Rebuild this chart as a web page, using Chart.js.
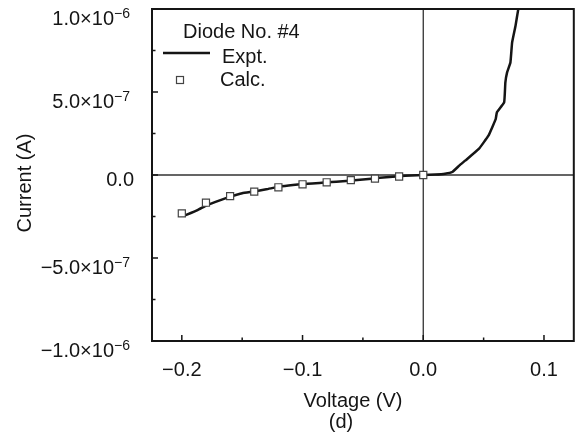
<!DOCTYPE html>
<html>
<head>
<meta charset="utf-8">
<script src="https://cdn.jsdelivr.net/npm/chart.js@4/dist/chart.umd.min.js"></script>
<style>
  html, body { margin: 0; padding: 0; background: #fff; }
  #wrap { width: 580px; height: 441px; }
</style>
</head>
<body>
<div id="wrap"><canvas id="ivChart" width="580" height="441"></canvas></div>
<script>
// Expt. curve (voltage in V, current in units of 1e-7 A)
const exptVoltage = [-0.198, -0.187, -0.179, -0.168, -0.160, -0.150, -0.141, -0.130, -0.119, -0.108,
  -0.100, -0.092, -0.080, -0.064, -0.050, -0.036, -0.020, -0.010, 0.000, 0.010,
  0.018, 0.024, 0.030, 0.035, 0.046, 0.054, 0.060, 0.061, 0.067, 0.068,
  0.0694, 0.0722, 0.0736, 0.0764, 0.0785, 0.080];
const exptCurrent = [-2.45, -2.11, -1.81, -1.51, -1.31, -1.10, -1.00, -0.86, -0.70, -0.60,
  -0.55, -0.51, -0.44, -0.36, -0.27, -0.17, -0.07, -0.03, 0.00, 0.03,
  0.08, 0.18, 0.58, 0.88, 1.57, 2.37, 3.37, 3.77, 4.37, 5.57,
  6.17, 6.78, 7.98, 8.98, 9.90, 10.4];

// Calc. squares
const calcVoltage = [-0.20, -0.18, -0.16, -0.14, -0.12, -0.10, -0.08, -0.06, -0.04, -0.02, 0.00];
const calcCurrent = [-2.31, -1.67, -1.27, -1.00, -0.74, -0.56, -0.44, -0.31, -0.22, -0.09, 0.00];

// axes
const xTickValues = [-0.2, -0.1, 0.0, 0.1];
const xTickLabels = ['\u22120.2', '\u22120.1', '0.0', '0.1'];
const xMinorTicks = [-0.15, -0.05, 0.05];
const yTickValues = [1e-6, 5e-7, 0, -5e-7, -1e-6];
const yTickMantissa = ['1.0\u00d710', '5.0\u00d710', '0.0', '\u22125.0\u00d710', '\u22121.0\u00d710'];
const yTickExponent = ['\u22126', '\u22127', '', '\u22127', '\u22126'];
const yMinorTicks = [7.5e-7, 2.5e-7, -2.5e-7, -7.5e-7];

const FONT = '"Liberation Sans", Arial, Helvetica, sans-serif';
const INK = '#151515';

const toPoints = (xs, ys) => xs.map((x, i) => ({ x, y: ys[i] * 1e-7 }));

const paperPlugin = {
  id: 'paper',
  beforeDatasetsDraw(chart) {
    const { ctx, chartArea: a, scales: { x, y } } = chart;
    const x0 = x.getPixelForValue(0);
    const y0 = y.getPixelForValue(0);
    ctx.save();
    ctx.strokeStyle = '#333';
    ctx.lineWidth = 1.3;
    ctx.beginPath();
    ctx.moveTo(x0, a.top); ctx.lineTo(x0, a.bottom);
    ctx.moveTo(a.left, y0); ctx.lineTo(a.right, y0);
    ctx.stroke();
    ctx.restore();
  },
  afterDatasetsDraw(chart) {
    const { ctx, chartArea: a, scales: { x, y } } = chart;
    ctx.save();
    ctx.strokeStyle = INK;
    ctx.lineWidth = 2;
    ctx.strokeRect(a.left, a.top, a.right - a.left, a.bottom - a.top);

    // inward ticks
    ctx.lineWidth = 1.5;
    ctx.beginPath();
    xTickValues.forEach((v) => {
      const px = x.getPixelForValue(v);
      ctx.moveTo(px, a.bottom); ctx.lineTo(px, a.bottom - 6);
    });
    xMinorTicks.forEach((v) => {
      const px = x.getPixelForValue(v);
      ctx.moveTo(px, a.bottom); ctx.lineTo(px, a.bottom - 3.5);
    });
    yTickValues.forEach((v) => {
      const py = y.getPixelForValue(v);
      ctx.moveTo(a.left, py); ctx.lineTo(a.left + 6, py);
    });
    yMinorTicks.forEach((v) => {
      const py = y.getPixelForValue(v);
      ctx.moveTo(a.left, py); ctx.lineTo(a.left + 3.5, py);
    });
    ctx.stroke();

    ctx.fillStyle = INK;
    ctx.textBaseline = 'alphabetic';

    // x tick labels
    ctx.font = `20px ${FONT}`;
    ctx.textAlign = 'center';
    xTickValues.forEach((v, i) => {
      ctx.fillText(xTickLabels[i], x.getPixelForValue(v), a.bottom + 35);
    });

    // y tick labels with superscript exponents
    yTickValues.forEach((v, i) => {
      const py = y.getPixelForValue(v);
      const exp = yTickExponent[i];
      if (!exp) {
        ctx.font = `20px ${FONT}`;
        ctx.textAlign = 'right';
        ctx.fillText(yTickMantissa[i], 134, py + 11);
        return;
      }
      ctx.font = `14px ${FONT}`;
      const expW = ctx.measureText(exp).width;
      ctx.textAlign = 'left';
      ctx.fillText(exp, 130 - expW, py + 9);
      ctx.font = `20px ${FONT}`;
      ctx.textAlign = 'right';
      ctx.fillText(yTickMantissa[i], 130 - expW, py + 16);
    });

    // axis titles
    ctx.font = `20px ${FONT}`;
    ctx.textAlign = 'center';
    ctx.fillText('Voltage (V)', 353, 407);
    ctx.fillText('(d)', 341, 428);
    ctx.save();
    ctx.translate(31, 183);
    ctx.rotate(-Math.PI / 2);
    ctx.fillText('Current (A)', 0, 0);
    ctx.restore();

    // legend
    ctx.textAlign = 'left';
    ctx.fillText('Diode No. #4', 183, 38);
    ctx.fillText('Expt.', 222, 63);
    ctx.fillText('Calc.', 220, 86);
    ctx.lineWidth = 2.5;
    ctx.beginPath();
    ctx.moveTo(163, 53); ctx.lineTo(210, 53);
    ctx.stroke();
    ctx.fillStyle = '#fff';
    ctx.strokeStyle = '#444';
    ctx.lineWidth = 1.2;
    ctx.fillRect(176.5, 76.5, 7, 7);
    ctx.strokeRect(176.5, 76.5, 7, 7);
    ctx.restore();
  },
};

new Chart(document.getElementById('ivChart').getContext('2d'), {
  type: 'scatter',
  data: {
    datasets: [
      {
        label: 'Calc.',
        data: toPoints(calcVoltage, calcCurrent),
        showLine: false,
        pointStyle: 'rect',
        pointRadius: 5,
        pointBorderWidth: 1.2,
        pointBorderColor: '#444',
        pointBackgroundColor: '#fff',
      },
      {
        label: 'Expt.',
        data: toPoints(exptVoltage, exptCurrent),
        showLine: true,
        borderColor: INK,
        borderWidth: 2.5,
        pointRadius: 0,
        tension: 0.1,
        fill: false,
      },
    ],
  },
  options: {
    responsive: false,
    animation: false,
    layout: { padding: { left: 152, right: 4, top: 9, bottom: 100 } },
    plugins: {
      legend: { display: false },
      tooltip: { enabled: false },
    },
    scales: {
      x: { type: 'linear', min: -0.2247, max: 0.1247, display: false },
      y: { type: 'linear', min: -1e-6, max: 1e-6, display: false },
    },
  },
  plugins: [paperPlugin],
});
</script>
</body>
</html>
